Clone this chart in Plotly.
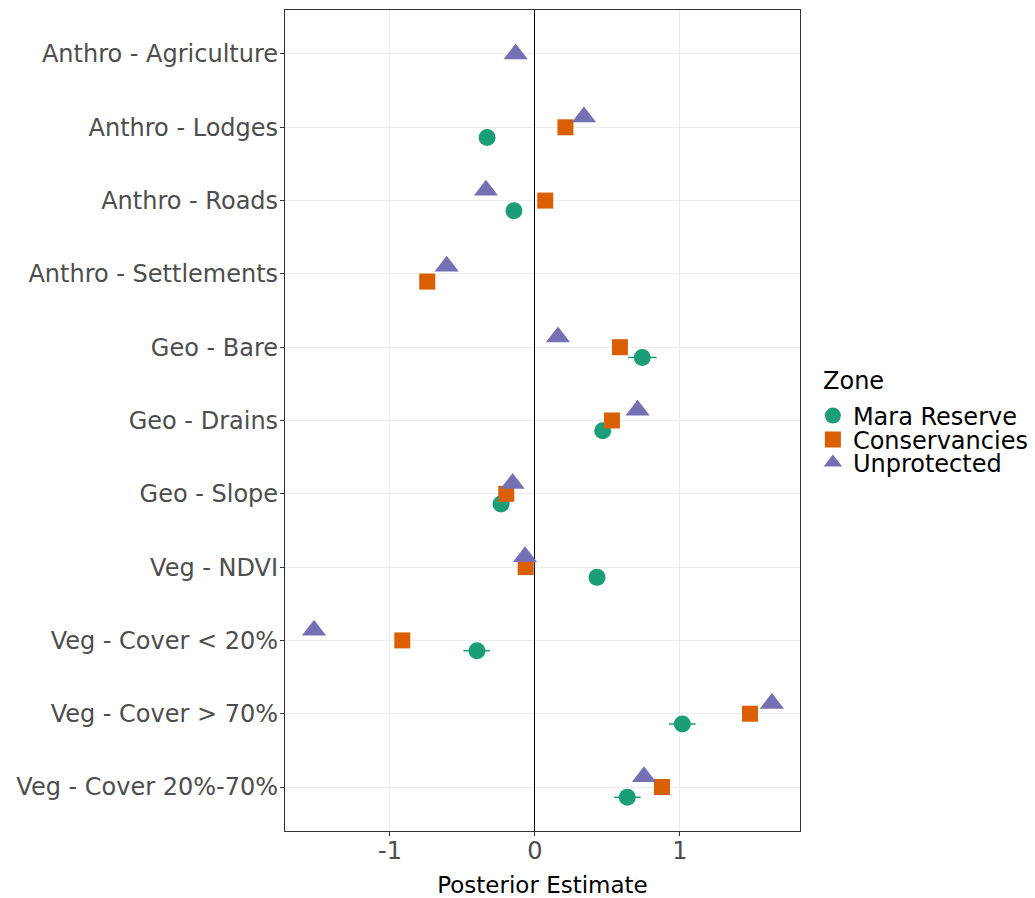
import plotly.graph_objects as go

categories = ["Anthro - Agriculture", "Anthro - Lodges", "Anthro - Roads", "Anthro - Settlements",
              "Geo - Bare", "Geo - Drains", "Geo - Slope", "Veg - NDVI",
              "Veg - Cover < 20%", "Veg - Cover > 70%", "Veg - Cover 20%-70%"]

mara_est = [None, -0.33, -0.145, None, 0.74, 0.467, -0.234, 0.428, -0.40, 1.016, 0.637]
mara_lo = [None, -0.36, -0.175, None, 0.643, 0.44, -0.26, 0.40, -0.494, 0.924, 0.547]
mara_hi = [None, -0.30, -0.115, None, 0.839, 0.495, -0.21, 0.455, -0.31, 1.108, 0.729]

cons_est = [None, 0.21, 0.071, -0.743, 0.586, 0.531, -0.198, -0.064, -0.915, 1.483, 0.876]
unprot_est = [-0.133, 0.338, -0.338, -0.609, 0.159, 0.708, -0.154, -0.069, -1.524, 1.634, 0.752]

x_ticks = [-1, 0, 1]
x_ticktext = ["-1", "0", "1"]

colors = {"Mara Reserve": "#1B9E77", "Conservancies": "#D95F02", "Unprotected": "#7570B3"}
DODGE_WIDTH = 0.42
idx = list(range(len(categories)))

# ggplot-style dodge: groups present in each category share the dodge width
series = [mara_est, cons_est, unprot_est]
offsets = [[0.0] * len(categories) for _ in series]
for c in idx:
    present = [s for s in range(len(series)) if series[s][c] is not None]
    n = len(present)
    for k, s in enumerate(present):
        # first group lowest on screen (y axis reversed -> larger value)
        offsets[s][c] = ((n - 1) / 2 - k) * DODGE_WIDTH / n

fig = go.Figure()

def err_plus(est, hi):
    return [None if e is None else h - e for e, h in zip(est, hi)]

def err_minus(est, lo):
    return [None if e is None else e - l for e, l in zip(est, lo)]

fig.add_trace(go.Scatter(
    x=mara_est, y=[i + offsets[0][i] for i in idx], mode="markers", name="Mara Reserve",
    marker=dict(symbol="circle", size=17, color=colors["Mara Reserve"]),
    error_x=dict(type="data", array=err_plus(mara_est, mara_hi), arrayminus=err_minus(mara_est, mara_lo),
                 width=0, thickness=1.5, color=colors["Mara Reserve"]),
    legend="legend",
))
fig.add_trace(go.Scatter(
    x=cons_est, y=[i + offsets[1][i] for i in idx], mode="markers", name="Conservancies",
    marker=dict(symbol="square", size=16, color=colors["Conservancies"]),
    legend="legend2",
))
fig.add_trace(go.Scatter(
    x=unprot_est, y=[i + offsets[2][i] for i in idx], mode="markers", name="Unprotected",
    marker=dict(symbol="triangle-up", size=21, color=colors["Unprotected"]),
    legend="legend3",
))

PLOT_H = 821.0
def py(px):
    # pixel row (page) -> paper y
    return (831 - px) / PLOT_H

leg_common = dict(
    font=dict(size=24, color="black"), x=1.025, xanchor="left", yanchor="middle",
    bgcolor="rgba(0,0,0,0)", itemsizing="trace",
)

fig.update_layout(
    width=1027, height=890,
    margin=dict(l=277, r=235, t=2, b=67, autoexpand=False),
    plot_bgcolor="white", paper_bgcolor="white",
    font=dict(family="DejaVu Sans", size=24, color="#4D4D4D"),
    legend=dict(y=py(416), **leg_common),
    legend2=dict(y=py(440), **leg_common),
    legend3=dict(y=py(463), **leg_common),
    showlegend=True,
    annotations=[dict(text="Zone", xref="paper", yref="paper", x=(821 - 285) / 515, y=py(381),
                      xanchor="left", yanchor="middle", showarrow=False,
                      font=dict(size=24, color="black"))],
)

fig.update_xaxes(
    range=[-1.724, 1.828], tickvals=x_ticks, ticktext=x_ticktext,
    showgrid=True, gridcolor="#EBEBEB", gridwidth=1,
    zeroline=True, zerolinecolor="black", zerolinewidth=1.3,
    showline=True, linecolor="#333333", linewidth=1.2, mirror=True,
    ticks="outside", ticklen=4, tickcolor="#333333",
    tickfont=dict(size=24, color="#4D4D4D"), automargin=False, ticklabelstandoff=-6,
    title=dict(text="Posterior Estimate", font=dict(size=23, color="black"), standoff=16),
)
fig.update_yaxes(
    range=[len(categories) - 0.4, -0.6], tickvals=idx, ticktext=categories,
    showgrid=True, gridcolor="#EBEBEB", gridwidth=1, zeroline=False,
    showline=True, linecolor="#333333", linewidth=1.2, mirror=True,
    ticks="outside", ticklen=4, tickcolor="#333333",
    tickfont=dict(size=24, color="#4D4D4D"), automargin=False, ticklabelstandoff=-3,
)

fig.write_html("out.html")
